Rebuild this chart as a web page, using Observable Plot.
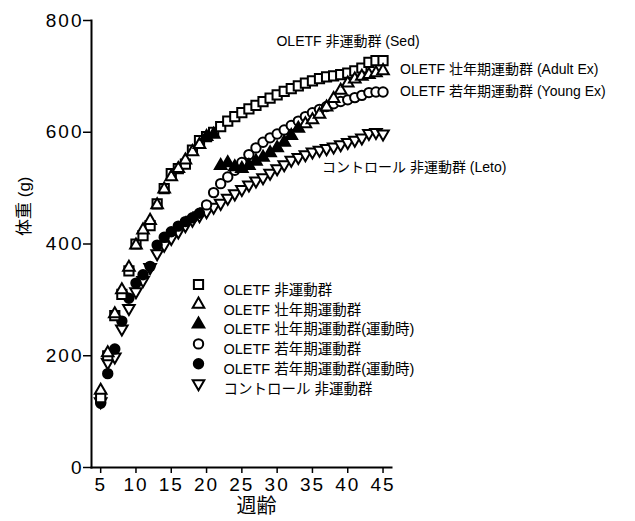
<!DOCTYPE html>
<html><head><meta charset="utf-8">
<script src="https://cdn.jsdelivr.net/npm/d3@7"></script>
<script src="https://cdn.jsdelivr.net/npm/@observablehq/plot@0.6"></script>
<style>
body{margin:0;background:#fff}
svg{display:block}
g[aria-label$="tick label"] text{letter-spacing:2px}
</style>
</head><body><div id="chart"></div>
<script>
const weeks = [5,6,7,8,9,10,11,12,13,14,15,16,17,18,19,20,21,22,23,24,25,26,27,28,29,30,31,32,33,34,35,36,37,38,39,40,41,42,43,44,45];
const sedWeight = [125,200,272,310,352,400,415,433,472,499,526,535,543,568,585,592,600,610,620,628,635,642,648,655,661,667,673,678,683,688,692,696,699,701,703,706,710,715,725,728,728];
const adultExWeight = [138,205,275,318,358,398,425,442,470,498,520,535,550,565,578,592,596,540,545,538,535,540,548,555,563,572,582,594,607,615,622,632,645,660,675,688,695,700,703,706,710];
const adultExerciseWeeks = [20,21,22,23,24,25,26,27,28,29,30,31,32,33];
const youngExWeight = [115,168,212,262,303,330,345,360,398,412,422,432,440,447,455,470,492,508,520,532,546,560,572,582,590,597,604,612,620,628,635,641,646,651,655,658,662,666,671,672,672];
const youngExerciseWeeks = [5,6,7,8,9,10,11,12,13,14,15,16,17,18,19];
const letoWeight = [118,188,198,248,285,315,335,358,383,398,410,422,433,443,451,458,466,473,482,490,498,506,513,519,527,535,542,550,555,560,565,568,571,574,578,582,586,590,598,600,597];
const yTicks = [0,200,400,600,800];
const xTicks = [5,10,15,20,25,30,35,40,45];
const legendLabels = ["OLETF 非運動群","OLETF 壮年期運動群","OLETF 壮年期運動群(運動時)","OLETF 若年期運動群","OLETF 若年期運動群(運動時)","コントロール 非運動群"];
const endLabels = ["OLETF 非運動群 (Sed)","OLETF 壮年期運動群 (Adult Ex)","OLETF 若年期運動群 (Young Ex)","コントロール 非運動群 (Leto)"];
const xTitle = "週齢";
const yTitle = "体重 (g)";

const triangleDown = {draw(context, size){
  const s3 = Math.sqrt(3); const y = -Math.sqrt(size/(s3*3));
  context.moveTo(0, -y*2); context.lineTo(-s3*y, y); context.lineTo(s3*y, y); context.closePath();
}};

const rows = (vals, filledWeeks) => weeks.map((w,i)=>({week:w, weight:vals[i], filled: filledWeeks ? filledWeeks.includes(w) : false}));
const sed = rows(sedWeight);
const adult = rows(adultExWeight, adultExerciseWeeks);
const young = rows(youngExWeight, youngExerciseWeeks);
const leto = rows(letoWeight);

const styles = [
  {symbol:"square", r:5.2, fill:"white"},
  {symbol:"triangle", r:4.3, fill:"white"},
  {symbol:"triangle", r:4.3, fill:"black"},
  {symbol:"circle", r:4.7, fill:"white"},
  {symbol:"circle", r:4.7, fill:"black"},
  {symbol:triangleDown, r:4.3, fill:"white"}
];
const sw = 2;
const dot = (data, st) => Plot.dot(data, {x:"week", y:"weight", symbol:()=>st.symbol, r:st.r, fill:st.fill, stroke:"black", strokeWidth:sw});

const legendMarks = [];
legendLabels.forEach((lab, i) => {
  const st = styles[i];
  const dy = 264 + i*19.8;
  legendMarks.push(Plot.dot([lab], {frameAnchor:"top-left", dx:107, dy, symbol:()=>st.symbol, r:st.r, fill:st.fill, stroke:"black", strokeWidth:sw}));
  legendMarks.push(Plot.text([lab], {frameAnchor:"top-left", dx:132, dy, text:d=>d, textAnchor:"start", fontSize:14.5}));
});

const last = arr => [arr[arr.length-1]];

const chart = Plot.plot({
  width:635, height:521,
  marginLeft:91, marginRight:244, marginTop:20, marginBottom:54,
  x:{domain:[3.7,46.2]},
  y:{domain:[0,800]},
  style:{fontFamily:"'Liberation Sans', 'Noto Sans CJK JP', sans-serif", fontSize:"19px", background:"white", color:"black"},
  marks:[
    Plot.axisY({ticks:yTicks, tickSize:8, tickPadding:0, label:null, fontSize:19, strokeWidth:1.5}),
    Plot.axisX({ticks:xTicks, tickSize:6, tickPadding:4, label:null, fontSize:19, strokeWidth:1.5}),
    Plot.frame({anchor:"left", strokeWidth:2}),
    Plot.frame({anchor:"bottom", strokeWidth:2}),
    dot(leto, styles[5]),
    dot(young.filter(d=>!d.filled), styles[3]),
    dot(young.filter(d=>d.filled), styles[4]),
    dot(sed, styles[0]),
    dot(adult.filter(d=>!d.filled), styles[1]),
    dot(adult.filter(d=>d.filled), styles[2]),
    Plot.text(last(sed), {x:"week", y:"weight", text:()=>endLabels[0], textAnchor:"middle", dx:-35, dy:-19, fontSize:14}),
    Plot.text(last(adult), {x:"week", y:"weight", text:()=>endLabels[1], textAnchor:"start", dx:17, dy:-1, fontSize:14}),
    Plot.text(last(young), {x:"week", y:"weight", text:()=>endLabels[2], textAnchor:"start", dx:17, dy:-1, fontSize:14}),
    Plot.text(last(leto), {x:"week", y:"weight", text:()=>endLabels[3], textAnchor:"start", dx:-61, dy:34, fontSize:14}),
    ...legendMarks,
    Plot.text([xTitle], {frameAnchor:"bottom", dx:15, dy:45, text:d=>d, fontSize:20}),
    Plot.text([yTitle], {frameAnchor:"left", dx:-67, dy:-8, rotate:-90, text:d=>d, fontSize:17})
  ]
});
document.getElementById("chart").appendChild(chart);
</script>
</body></html>
